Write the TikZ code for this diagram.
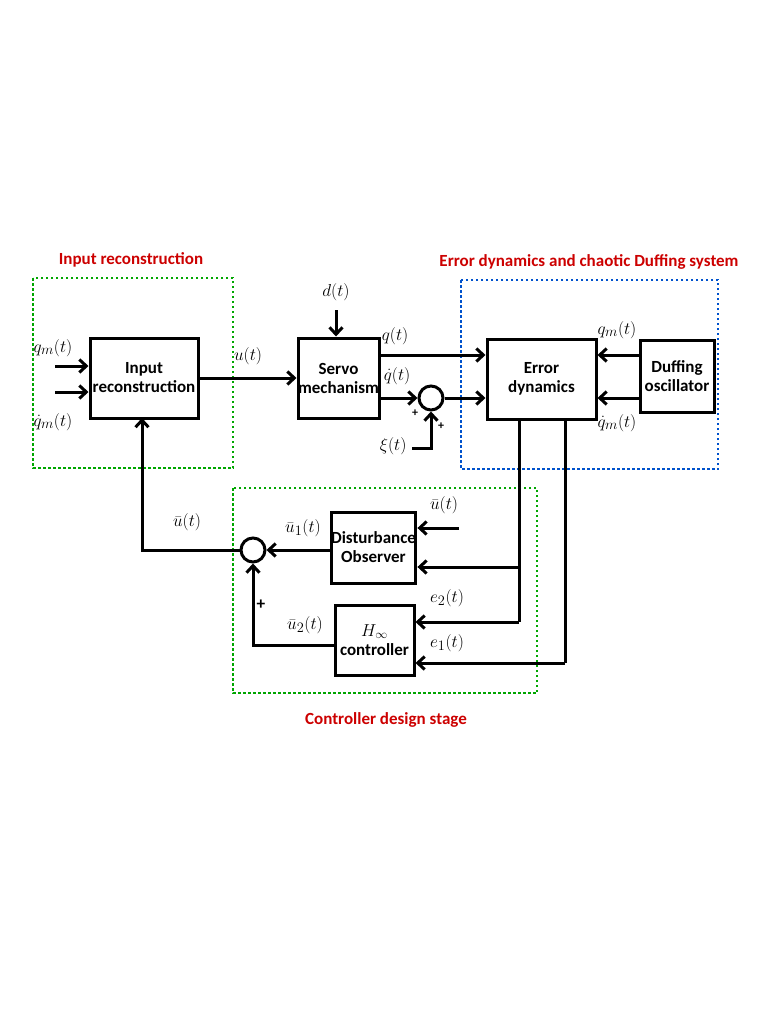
\documentclass[tikz,border=0pt]{standalone}
\usepackage{fontspec}
\setmainfont{Carlito}
\usetikzlibrary{arrows.meta}
\begin{document}
\begin{tikzpicture}[x=1pt,y=-1pt,
  blk/.style={draw,line width=3pt,minimum width=#1,align=center,font=\bfseries\fontsize{17}{19}\selectfont,inner sep=0pt},
  sig/.style={line width=3pt,-{Straight Barb[length=7pt,width=13pt,line width=3pt]}},
  ln/.style={line width=3pt},
  sumc/.style={draw,circle,line width=3pt,minimum size=24pt,inner sep=0pt},
  lab/.style={font=\fontsize{19}{21}\selectfont},
  ttl/.style={text=red!80!black,font=\bfseries\fontsize{17}{19}\selectfont},
  gbox/.style={draw=green!65!black,line width=2.5pt,dash pattern=on 2.5pt off 2.5pt},
  bbox/.style={draw=blue!60!cyan!80!black,line width=2.5pt,dash pattern=on 2.5pt off 2.5pt}]
\useasboundingbox (0,0) rectangle (768,1024);
\draw[gbox] (33,278) rectangle (233,468);
\draw[bbox] (461,280) rectangle (718,469);
\draw[gbox] (233,488) rectangle (537,693);
\node[ttl] (t1) at (131,260) {Input reconstruction};
\node[ttl] (t2) at (589,262) {Error dynamics and chaotic Duffing system};
\node[ttl] (t3) at (386,720) {Controller design stage};

\node[blk=108pt,minimum height=80pt] (ir) at (144,378) {Input\\reconstruction};
\node[blk=81pt,minimum height=80pt] (sv) at (338.5,378) {Servo\\mechanism};
\node[blk=109pt,minimum height=80pt] (ed) at (541.5,379) {Error\\dynamics};
\node[blk=74pt,minimum height=72pt] (du) at (677,376) {Duffing\\oscillator};
\node[sumc] (s1) at (431,398) {};
\node[blk=81pt,minimum height=71pt] (do) at (373.5,547.5) {Disturbance\\Observer};
\node[blk=79pt,minimum height=70pt] (hc) at (374.5,640) {$H_\infty$\\controller};
\node[sumc] (s2) at (253,550) {};

\coordinate (qa) at (55,366); \coordinate (qb) at (55,392);
\draw[sig] (qa) -- (qa -| ir.west);
\draw[sig] (qb) -- (qb -| ir.west);
\node[lab] (lqm) at (53,348) {$q_m(t)$};
\node[lab] (lqdm) at (53,422) {$\dot q_m(t)$};
\draw[sig] (ir.east) -- (sv.west);
\node[lab] (lu) at (248,356) {$u(t)$};
\coordinate (dd) at (336,310);
\draw[sig] (dd) -- (sv.north -| dd);
\node[lab] (ld) at (336,292) {$d(t)$};
\draw[sig] (sv.east |- 0,355) -- (ed.west |- 0,355);
\node[lab] (lq) at (395,336) {$q(t)$};
\draw[sig] (sv.east |- 0,398) -- (s1.west);
\node[lab] (lqd) at (397,376) {$\dot q(t)$};
\draw[sig] (s1.east) -- (ed.west |- s1);
\node[font=\bfseries\large] (p1) at (415,413) {+};
\node[font=\bfseries\large] (p2) at (441,426) {+};
\coordinate (xi) at (412,448);
\draw[sig] (xi) -- (431,448) -- (s1.south);
\node[lab,anchor=east] (lxi) at (410,446) {$\xi(t)$};
\draw[sig] (du.west |- 0,355) -- (ed.east |- 0,355);
\draw[sig] (du.west |- 0,398) -- (ed.east |- 0,398);
\node[lab] (lqm2) at (617,330) {$q_m(t)$};
\node[lab] (lqdm2) at (617,423) {$\dot q_m(t)$};

\coordinate (ua) at (459,528);
\draw[sig] (ua) -- (do.east |- ua);
\node[lab] (lub) at (444,505) {$\bar u(t)$};
\draw[ln] (519,419) -- (519,622);
\draw[sig] (519,567) -- (do.east |- 0,567);
\draw[sig] (519,622) -- (hc.east |- 0,622);
\node[lab] (le2) at (447,598) {$e_2(t)$};
\draw[ln] (565,419) -- (565,663);
\draw[sig] (565,663) -- (hc.east |- 0,663);
\node[lab] (le1) at (447,643) {$e_1(t)$};
\draw[sig] (do.west |- s2) -- (s2.east);
\node[lab] (lu1) at (303,528) {$\bar u_1(t)$};
\draw[sig] (hc.west |- 0,645) -- (253,645) -- (s2.south);
\node[lab] (lu2) at (305,625) {$\bar u_2(t)$};
\node[font=\bfseries\LARGE] (p3) at (261,605) {+};
\draw[sig] (s2.west) -- (142,550) -- (142,418);
\node[lab] (lub2) at (187,522) {$\bar u(t)$};
\end{tikzpicture}
\end{document}
